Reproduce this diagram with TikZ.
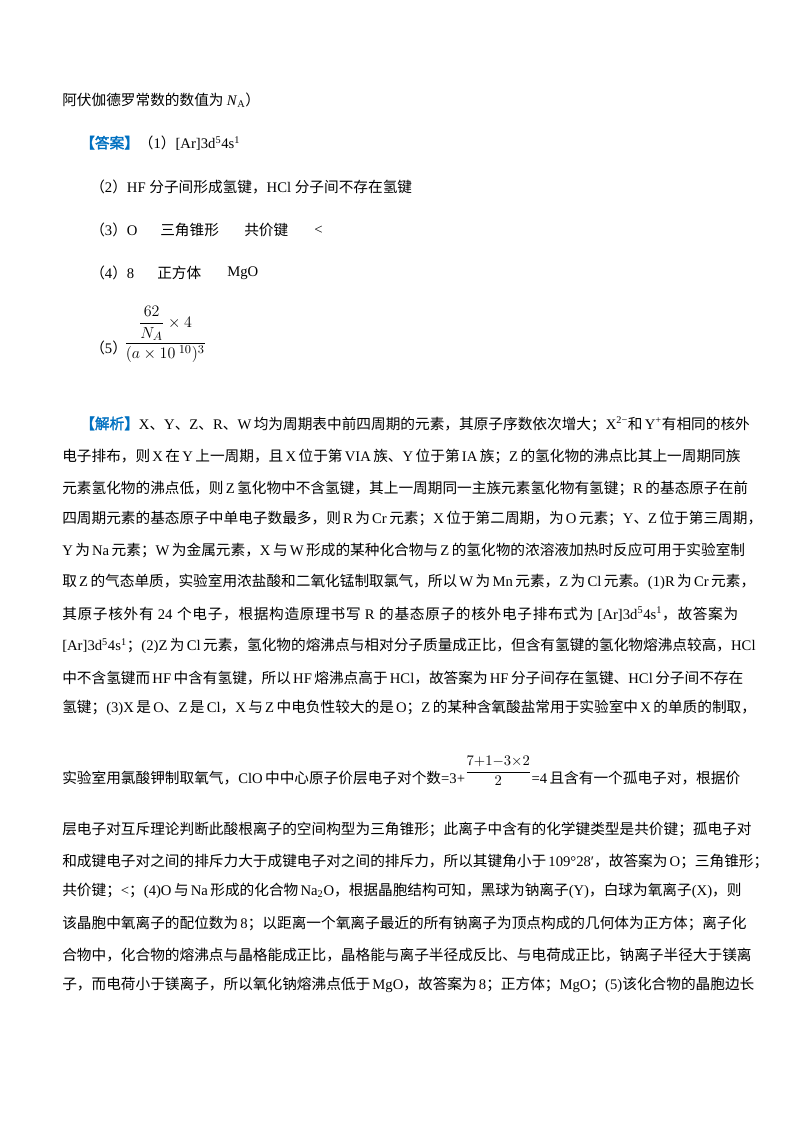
\documentclass[tikz,border=0pt]{standalone}
\usepackage{amsmath}
\usepackage{fontspec}
\setmainfont{Liberation Serif}
\newfontfamily\cjkfont{Noto Sans CJK SC}[AutoFakeBold=2]
\definecolor{ansblue}{RGB}{0,112,192}
% CJK characters switch to the CJK font
\XeTeXinterchartokenstate=1
\newXeTeXintercharclass\cjkclass
\newcount\cjkcnt
\newcommand\cjkrange[2]{\cjkcnt=#1
  \loop\XeTeXcharclass\cjkcnt=\cjkclass
  \ifnum\cjkcnt<#2 \advance\cjkcnt by 1 \repeat}
\cjkrange{"3000}{"303F}
\cjkrange{"4E00}{"9FFF}
\cjkrange{"FF00}{"FFEF}
\XeTeXinterchartoks 0 \cjkclass = {\cjkfont}
\XeTeXinterchartoks 4095 \cjkclass = {\cjkfont}
\XeTeXinterchartoks \cjkclass 0 = {\rmfamily}
\XeTeXinterchartoks 4095 0 = {\rmfamily}
\XeTeXinterchartoks \cjkclass \cjkclass = {\hskip 0pt plus 1pt}
\newcommand\sline[2]{\hbox to #1{#2}}
\newcommand\csup[1]{\textsuperscript{#1}}

\begin{document}
\begin{tikzpicture}[x=0.75pt,y=-0.75pt,
    txt/.style={anchor=west, inner sep=0pt, font=\fontsize{11}{13}\selectfont}]
    \useasboundingbox (0,0) rectangle (800,1132);

    \node[txt] (intro) at (62,100) {阿伏伽德罗常数的数值为 \textit{N}\textsubscript{A}）};

    % answer
    \node[txt] (ans1) at (80,143) {{\color{ansblue}\bfseries 【答案】}（1）[Ar]3d\csup{5}4s\csup{1}};
    \node[txt] (ans2) at (90,187) {（2）HF 分子间形成氢键，HCl 分子间不存在氢键};
    \node[txt] (ans3) at (90,230) {（3）O};
    \node[txt] (ans3b) at (160,230) {三角锥形};
    \node[txt] (ans3c) at (244,230) {共价键};
    \node[txt] (ans3d) at (314,230) {<};
    \node[txt] (ans4) at (90,273) {（4）8};
    \node[txt] (ans4b) at (157,273) {正方体};
    \node[txt] (ans4c) at (227,273) {MgO};
    \node[txt] (ans5) at (90,348) {（5）};
    \node[txt, font=\fontsize{13}{15}\selectfont] (ans5f) at (124,334) {$\dfrac{\dfrac{62}{N_A}\times 4}{(a\times 10^{\;10})^3}$};

    % analysis
    \node[txt] (e1) at (80,424) {\sline{493.5pt}{{\color{ansblue}\bfseries 【解析】}X、Y、Z、R、W 均为周期表中前四周期的元素，其原子序数依次增大；X\csup{2−}和 Y\csup{+}有相同的核外}};
    \node[txt] (e2) at (62,456) {\sline{507pt}{电子排布，则 X 在 Y 上一周期，且 X 位于第 VIA 族、Y 位于第 IA 族；Z 的氢化物的沸点比其上一周期同族}};
    \node[txt] (e3) at (62,488) {\sline{507pt}{元素氢化物的沸点低，则 Z 氢化物中不含氢键，其上一周期同一主族元素氢化物有氢键；R 的基态原子在前}};
    \node[txt] (e4) at (62,518) {\sline{507pt}{四周期元素的基态原子中单电子数最多，则 R 为 Cr 元素；X 位于第二周期，为 O 元素；Y、Z 位于第三周期，}};
    \node[txt] (e5) at (62,550) {\sline{507pt}{Y 为 Na 元素；W 为金属元素，X 与 W 形成的某种化合物与 Z 的氢化物的浓溶液加热时反应可用于实验室制}};
    \node[txt] (e6) at (62,582) {\sline{507pt}{取 Z 的气态单质，实验室用浓盐酸和二氧化锰制取氯气，所以 W 为 Mn 元素，Z 为 Cl 元素。(1)R 为 Cr 元素，}};
    \node[txt] (e7) at (62,614) {\sline{507pt}{其原子核外有 24 个电子，根据构造原理书写 R 的基态原子的核外电子排布式为 [Ar]3d\csup{5}4s\csup{1}，故答案为}};
    \node[txt] (e8) at (62,646) {\sline{507pt}{[Ar]3d\csup{5}4s\csup{1}；(2)Z 为 Cl 元素，氢化物的熔沸点与相对分子质量成正比，但含有氢键的氢化物熔沸点较高，HCl}};
    \node[txt] (e9) at (62,678) {\sline{507pt}{中不含氢键而 HF 中含有氢键，所以 HF 熔沸点高于 HCl，故答案为 HF 分子间存在氢键、HCl 分子间不存在}};
    \node[txt] (e10) at (62,708) {\sline{507pt}{氢键；(3)X 是 O、Z 是 Cl，X 与 Z 中电负性较大的是 O；Z 的某种含氧酸盐常用于实验室中 X 的单质的制取，}};
    \node[txt, anchor=base west] (e11) at (62,783) {\sline{507pt}{实验室用氯酸钾制取氧气，ClO 中中心原子价层电子对个数=3+\raisebox{1.1ex}{$\dfrac{7{+}1{-}3{\times}2}{2}$}=4 且含有一个孤电子对，根据价}};
    \node[txt] (e12) at (62,829) {\sline{507pt}{层电子对互斥理论判断此酸根离子的空间构型为三角锥形；此离子中含有的化学键类型是共价键；孤电子对}};
    \node[txt] (e13) at (62,861) {\sline{507pt}{和成键电子对之间的排斥力大于成键电子对之间的排斥力，所以其键角小于 109°28′，故答案为 O；三角锥形；}};
    \node[txt] (e14) at (62,891) {\sline{507pt}{共价键；<；(4)O 与 Na 形成的化合物 Na\textsubscript{2}O，根据晶胞结构可知，黑球为钠离子(Y)，白球为氧离子(X)，则}};
    \node[txt] (e15) at (62,923) {\sline{507pt}{该晶胞中氧离子的配位数为 8；以距离一个氧离子最近的所有钠离子为顶点构成的几何体为正方体；离子化}};
    \node[txt] (e16) at (62,955) {\sline{507pt}{合物中，化合物的熔沸点与晶格能成正比，晶格能与离子半径成反比、与电荷成正比，钠离子半径大于镁离}};
    \node[txt] (e17) at (62,985) {\sline{507pt}{子，而电荷小于镁离子，所以氧化钠熔沸点低于 MgO，故答案为 8；正方体；MgO；(5)该化合物的晶胞边长}};
\end{tikzpicture}
\end{document}
